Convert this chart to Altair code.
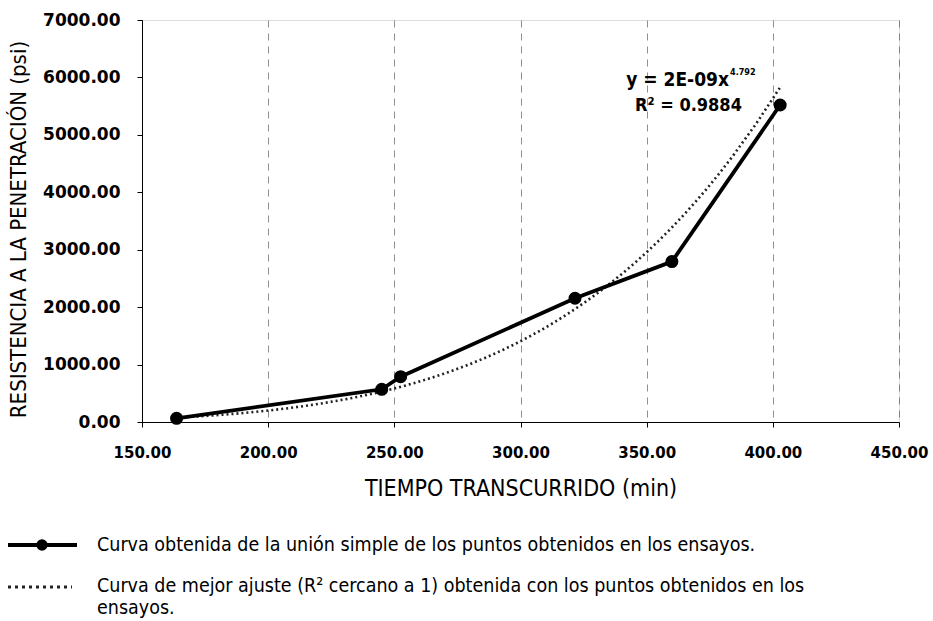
import altair as alt
import pandas as pd

# Penetration resistance test readings
tiempo_min = [163.7, 245.0, 252.5, 321.6, 360.0, 402.9]
resistencia_psi = [64, 570, 789, 2155, 2793, 5520]

x_ticks = [150, 200, 250, 300, 350, 400, 450]
y_ticks = [0, 1000, 2000, 3000, 4000, 5000, 6000, 7000]

x_title = "TIEMPO TRANSCURRIDO  (min)"
y_title = "RESISTENCIA A LA PENETRACIÓN  (psi)"

ecuacion = "y = 2E-09x"
exponente = "4.792"
r_cuadrado = "R² = 0.9884"

leyenda_1 = "Curva obtenida de la unión simple de los puntos obtenidos en los ensayos."
leyenda_2 = "Curva de mejor ajuste (R² cercano a 1) obtenida con los puntos obtenidos en los"
leyenda_3 = "ensayos."

LABEL_FONT = "DejaVu Sans"
TEXT_FONT = "'DejaVu Sans Condensed', 'Liberation Sans', sans-serif"

df = pd.DataFrame({"t": tiempo_min, "r": resistencia_psi})

x_enc = alt.X(
    "t:Q",
    scale=alt.Scale(domain=[150, 450], nice=False, zero=False),
    axis=alt.Axis(
        values=x_ticks, format=".2f", title=x_title, labelFlush=False,
        grid=True, gridDash=[7, 6], gridColor="#444", gridOpacity=0.6, gridWidth=1,
        labelFont=LABEL_FONT, labelFontSize=15, labelFontWeight="bold", labelColor="black",
        labelPadding=18, tickSize=5, tickColor="black", domainColor="black",
        titleFont=TEXT_FONT, titleFontSize=23, titleFontWeight="normal", titleColor="black",
        titlePadding=17,
    ),
)
y_enc = alt.Y(
    "r:Q",
    scale=alt.Scale(domain=[0, 7000], nice=False),
    axis=alt.Axis(
        values=y_ticks, format=".2f", title=y_title, grid=False, labelFlush=False,
        labelFont=LABEL_FONT, labelFontSize=17, labelFontWeight="bold", labelColor="black",
        labelPadding=17, tickSize=5, tickColor="black", domainColor="black",
        titleFont=TEXT_FONT, titleFontSize=22, titleFontWeight="normal", titleColor="black",
        titlePadding=12, titleY=209,
    ),
)

base = alt.Chart(df)

# power-law trend fitted from the readings
tendencia = base.transform_regression(
    "t", "r", method="pow", extent=[tiempo_min[0], tiempo_min[-1]]
).mark_line(color="#222", strokeWidth=2.6, strokeDash=[2, 3]).encode(x=x_enc, y=y_enc)

union = base.mark_line(color="black", strokeWidth=3.8).encode(x=x_enc, y=y_enc)
puntos = base.mark_circle(color="black", size=170, opacity=1).encode(x=x_enc, y=y_enc)


def texto(label, x, y, size, font=TEXT_FONT, weight="normal", align="left"):
    return alt.Chart(pd.DataFrame({"s": [label]})).mark_text(
        font=font, fontSize=size, fontWeight=weight, color="black",
        align=align, baseline="middle",
    ).encode(text="s:N", x=alt.value(x), y=alt.value(y))


anotaciones = [
    texto(ecuacion, 587, 60, 19, weight="bold", align="right"),
    texto(exponente, 588, 52, 9, weight="bold"),
    texto(r_cuadrado, 493, 86, 18, weight="bold"),
]

# legend drawn below the axis title
leg_df = pd.DataFrame({"s": [0]})
leg_linea = alt.Chart(leg_df).mark_rule(color="black", strokeWidth=3.8).encode(
    x=alt.value(-134), x2=alt.value(-65), y=alt.value(525)
)
leg_punto = alt.Chart(leg_df).mark_circle(color="black", size=130, opacity=1).encode(
    x=alt.value(-100), y=alt.value(525)
)
leg_puntos = alt.Chart(leg_df).mark_rule(color="#222", strokeWidth=2.8, strokeDash=[3, 4]).encode(
    x=alt.value(-134), x2=alt.value(-70), y=alt.value(567)
)
leyenda = [
    leg_linea, leg_punto, leg_puntos,
    texto(leyenda_1, -45, 525, 19.5),
    texto(leyenda_2, -45, 566, 19.5),
    texto(leyenda_3, -45, 588, 19.5),
]

chart = alt.layer(tendencia, union, puntos, *anotaciones, *leyenda).properties(
    width=757, height=402,
    autosize=alt.AutoSizeParams(type="none"),
    padding={"left": 142, "top": 20, "right": 34, "bottom": 199},
).configure_view(stroke=None).configure(background="white")

chart.save("out.html", embed_options={"renderer": "svg", "actions": False})
